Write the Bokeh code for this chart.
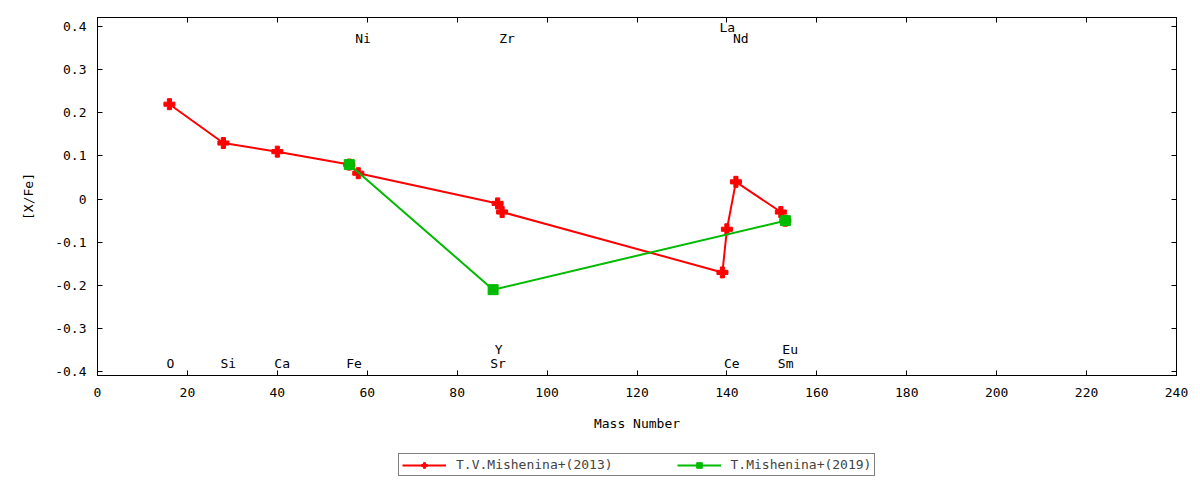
from bokeh.plotting import figure
from bokeh.layouts import column
from bokeh.models import (LinearAxis, FixedTicker, CustomJSTickFormatter, Legend,
                          LegendItem, Range1d, ColumnDataSource)
from bokeh.core.properties import value
from bokeh.embed import file_html
from bokeh.resources import INLINE

# ---- data ----
red_elements = ["O", "Si", "Ca", "Fe", "Ni", "Y", "Zr", "La", "Ce", "Nd", "Sm", "Eu"]
red_mass = [16, 28, 40, 56, 58, 89, 90, 139, 140, 142, 152, 153]
red_xfe = [0.22, 0.13, 0.11, 0.08, 0.06, -0.01, -0.03, -0.17, -0.07, 0.04, -0.03, -0.05]

green_elements = ["Fe", "Sr", "Eu"]
green_mass = [56, 88, 153]
green_xfe = [0.08, -0.21, -0.05]

label_names = ["O", "Si", "Ca", "Fe", "Sr", "Ce", "Sm", "Y", "Eu", "Ni", "Zr", "Nd", "La"]
label_mass = [16, 28, 40, 56, 88, 140, 152, 89, 153, 58, 90, 142, 139]
label_y = [-0.382, -0.382, -0.382, -0.382, -0.382, -0.382, -0.382,
           -0.349, -0.349, 0.372, 0.372, 0.372, 0.398]

x_ticks = [0, 20, 40, 60, 80, 100, 120, 140, 160, 180, 200, 220, 240]
y_ticks = [-0.4, -0.3, -0.2, -0.1, 0.0, 0.1, 0.2, 0.3, 0.4]

series_names = ["T.V.Mishenina+(2013)", "T.Mishenina+(2019)"]

FONT = "DejaVu Sans Mono"
FS = "13px"
RED = "#ff0000"
GREEN = "#00bb00"

p = figure(width=1192, height=452, x_range=Range1d(0, 240), y_range=Range1d(-0.409, 0.421),
           output_backend="svg", toolbar_location=None,
           min_border_left=97, min_border_right=16, min_border_top=17, min_border_bottom=77)
p.xgrid.visible = False
p.ygrid.visible = False
p.outline_line_color = "black"
p.outline_line_width = 1
p.background_fill_color = "white"
p.border_fill_color = "white"

red_src = ColumnDataSource(dict(x=red_mass, y=red_xfe, el=red_elements))
green_src = ColumnDataSource(dict(x=green_mass, y=green_xfe, el=green_elements))


def draw_series(fig, src, color, marker, size):
    ln = fig.line("x", "y", source=src, line_color=color, line_width=2)
    pt = fig.scatter("x", "y", source=src, marker=marker, size=size,
                     fill_color=color, line_color=color, line_width=1)
    return ln, pt


draw_series(p, red_src, RED, "plus", 11)
draw_series(p, green_src, GREEN, "square", 10)

lab_src = ColumnDataSource(dict(x=label_mass, y=label_y, t=label_names))
p.text("x", "y", text="t", source=lab_src, text_font=value(FONT), text_font_size=FS,
       text_align="left", text_baseline="middle", x_offset=-3, text_color="black")

# axes
for ax in p.xaxis:
    ax.ticker = FixedTicker(ticks=x_ticks)
for ax in p.yaxis:
    ax.ticker = FixedTicker(ticks=y_ticks)
    ax.formatter = CustomJSTickFormatter(code="const v=Math.round(tick*10)/10; return v===0?'0':v.toFixed(1);")

p.xaxis.axis_label = "Mass Number"
p.yaxis.axis_label = "[X/Fe]"
for ax in list(p.xaxis) + list(p.yaxis):
    ax.major_tick_in = 5
    ax.major_tick_out = 0
    ax.minor_tick_line_color = None
    ax.axis_line_color = "black"
    ax.major_tick_line_color = "black"
    ax.major_label_text_font = FONT
    ax.major_label_text_font_size = FS
    ax.major_label_text_color = "black"
    ax.axis_label_text_font = FONT
    ax.axis_label_text_font_size = FS
    ax.axis_label_text_font_style = "normal"
    ax.axis_label_text_color = "black"
p.xaxis.major_label_standoff = 12
p.xaxis.axis_label_standoff = 16
p.yaxis.major_label_standoff = 11
p.yaxis.axis_label_standoff = 16

top = LinearAxis(ticker=FixedTicker(ticks=x_ticks), major_label_text_alpha=0,
                 major_tick_in=5, major_tick_out=0, minor_tick_line_color=None,
                 major_label_standoff=0, axis_line_color="black")
right = LinearAxis(ticker=FixedTicker(ticks=y_ticks), major_label_text_alpha=0,
                   major_tick_in=5, major_tick_out=0, minor_tick_line_color=None,
                   major_label_standoff=0, axis_line_color="black")
p.add_layout(top, "above")
p.add_layout(right, "right")

# legend strip below the plot: its keys share the series sources; the strip's ranges keep
# those renderers out of view so only the legend box is seen
lg = figure(width=1192, height=28, x_range=Range1d(1000, 1001), y_range=Range1d(1000, 1001),
            output_backend="svg", toolbar_location=None,
            min_border_left=0, min_border_right=0, min_border_top=0, min_border_bottom=0)
lg.axis.visible = False
lg.grid.visible = False
lg.outline_line_color = None
k1l, k1p = draw_series(lg, red_src, RED, "plus", 11)
k2l, k2p = draw_series(lg, green_src, GREEN, "square", 10)

legend = Legend(items=[LegendItem(label=series_names[0], renderers=[k1l, k1p]),
                       LegendItem(label=series_names[1], renderers=[k2l, k2p])],
                orientation="horizontal", location=(301, 4),
                label_text_font=FONT, label_text_font_size=FS,
                glyph_width=44, glyph_height=14, label_height=14,
                label_standoff=10, spacing=64, padding=3, margin=0,
                border_line_color="black", border_line_width=1)
lg.add_layout(legend, "center")

layout = column(p, lg, spacing=0)
open("out.html", "w").write(file_html(layout, INLINE))
